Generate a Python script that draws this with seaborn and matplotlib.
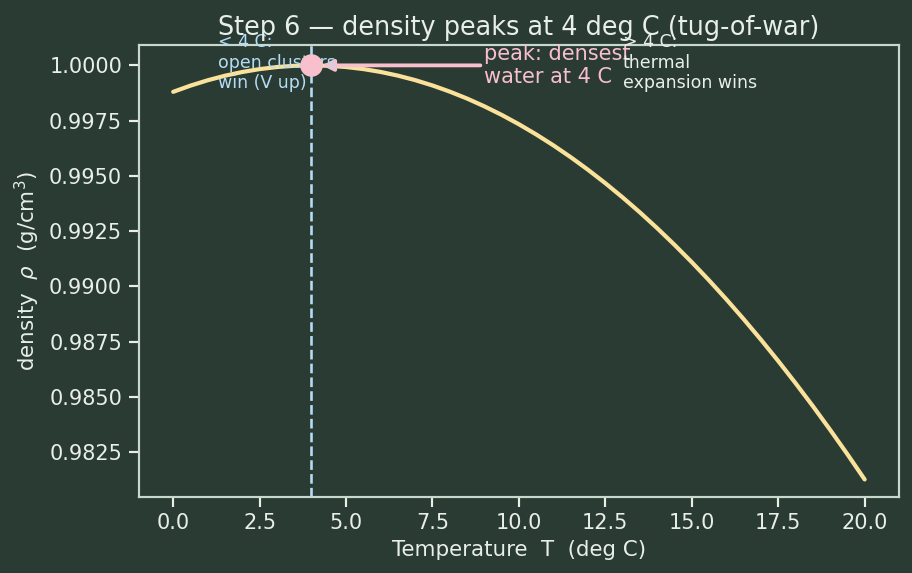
import matplotlib
matplotlib.use('Agg')
import matplotlib.pyplot as plt
import pandas as pd
import seaborn as sns

# values (deg C -> g/cm^3), every half degree
temps = [0, 0.5, 1, 1.5, 2, 2.5, 3, 3.5, 4, 4.5, 5, 5.5, 6, 6.5, 7, 7.5, 8, 8.5, 9, 9.5, 10,
         10.5, 11, 11.5, 12, 12.5, 13, 13.5, 14, 14.5, 15, 15.5, 16, 16.5, 17, 17.5, 18,
         18.5, 19, 19.5, 20]
density = [0.998803, 0.999084, 0.999327, 0.999533, 0.999701, 0.999832, 0.999925, 0.999981,
           1.000000, 0.999981, 0.999926, 0.999833, 0.999703, 0.999536, 0.999332, 0.999091,
           0.998813, 0.998499, 0.998148, 0.997760, 0.997336, 0.996875, 0.996378, 0.995844,
           0.995274, 0.994668, 0.994025, 0.993347, 0.992632, 0.991881, 0.991095, 0.990272,
           0.989414, 0.988519, 0.987590, 0.986624, 0.985623, 0.984586, 0.983514, 0.982407,
           0.981264]
peak_T = 4
peak_rho = 1.0

xticks = [0, 2.5, 5, 7.5, 10, 12.5, 15, 17.5, 20]
yticks = [0.9825, 0.985, 0.9875, 0.99, 0.9925, 0.995, 0.9975, 1.0]

bg = '#2a3b33'
fg = '#e8efe8'
curve_color = '#fbe29a'
pink = '#f8c0cc'
blue = '#b4dcf4'

sns.set_theme(style='dark', rc={
    'figure.facecolor': bg,
    'axes.facecolor': bg,
    'axes.edgecolor': '#c8d8cc',
    'axes.labelcolor': fg,
    'xtick.color': fg,
    'ytick.color': fg,
    'text.color': fg,
    'xtick.bottom': True,
    'ytick.left': True,
})
plt.rcParams['font.family'] = ['DejaVu Sans']

df = pd.DataFrame({'T': temps, 'rho': density})

fig, ax = plt.subplots(figsize=(7.296, 4.584), dpi=125)
fig.subplots_adjust(left=0.152, right=0.986, top=0.921, bottom=0.133)

sns.lineplot(data=df, x='T', y='rho', ax=ax, color=curve_color, lw=2.4)
ax.axvline(peak_T, color=blue, ls='--', lw=1.5)
ax.plot([peak_T], [peak_rho], 'o', color=pink, ms=12, zorder=5)
ax.annotate('peak: densest\nwater at 4 C', xy=(peak_T, peak_rho), xytext=(9, peak_rho),
            color=pink, fontsize=12, va='center', ha='left',
            arrowprops=dict(arrowstyle='-|>', color=pink, lw=2.2, mutation_scale=13,
                            shrinkA=0, shrinkB=6))
ax.text(1.3, 1.00147, '< 4 C:\nopen clusters\nwin (V up)', color=blue,
        fontsize=10, va='top', ha='left')
ax.text(13.0, 1.00147, '> 4 C:\nthermal\nexpansion wins', color=fg,
        fontsize=10, va='top', ha='left')

ax.set_xlim(-1, 21)
ax.set_xticks(xticks)
ax.set_xticklabels([f'{t:.1f}' for t in xticks])
ax.set_yticks(yticks)
ax.set_yticklabels([f'{t:.4f}' for t in yticks])
ax.set_ylim(0.98048, 1.00091)
ax.tick_params(labelsize=12, colors=fg)
ax.set_xlabel('Temperature  T  (deg C)', fontsize=12.3)
ax.set_ylabel(r'density  $\rho$  (g/cm$^3$)', fontsize=12.3)
ax.set_title('Step 6 — density peaks at 4 deg C (tug-of-war)', fontsize=14.7, color=fg)
ax.grid(False)

fig.savefig('out.png', dpi=125, facecolor=bg)
